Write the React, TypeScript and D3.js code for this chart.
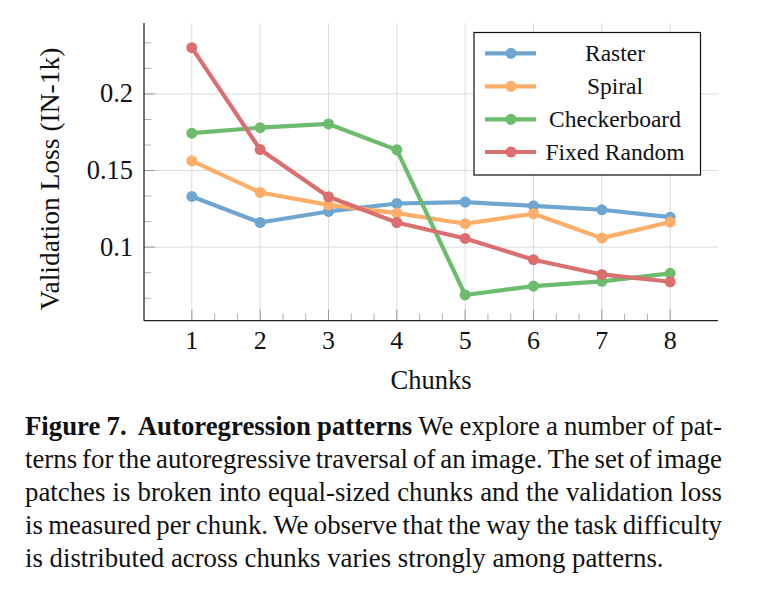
import React, { useMemo } from "react";
import * as d3 from "d3";

const chunks = [1, 2, 3, 4, 5, 6, 7, 8];
const raster = [0.1331, 0.1161, 0.1233, 0.1285, 0.1294, 0.127, 0.1244, 0.1196];
const spiral = [0.1563, 0.1357, 0.1276, 0.1222, 0.1153, 0.1218, 0.1059, 0.1164];
const checkerboard = [0.1744, 0.178, 0.1804, 0.1635, 0.0688, 0.0746, 0.0777, 0.0829];
const fixedRandom = [0.2302, 0.1637, 0.1329, 0.1161, 0.1057, 0.0918, 0.0822, 0.0774];
const seriesNames = ["Raster", "Spiral", "Checkerboard", "Fixed Random"];
const seriesColors = ["#6fa6d0", "#fcae68", "#6dbb6d", "#db6e6e"];
const yMajorTicks = [0.1, 0.15, 0.2];
const yTickLabels = ["0.1", "0.15", "0.2"];
const xTickLabels = ["1", "2", "3", "4", "5", "6", "7", "8"];
const xLabel = "Chunks";
const yLabel = "Validation Loss (IN-1k)";

const captionLines: { text: string; bold: boolean }[][] = [
  [
    { text: "Figure 7.", bold: true },
    { text: "Autoregression patterns", bold: true },
    { text: "We explore a number of pat-", bold: false },
  ],
  [{ text: "terns for the autoregressive traversal of an image. The set of image", bold: false }],
  [{ text: "patches is broken into equal-sized chunks and the validation loss", bold: false }],
  [{ text: "is measured per chunk. We observe that the way the task difficulty", bold: false }],
  [{ text: "is distributed across chunks varies strongly among patterns.", bold: false }],
];

const FONT = "Liberation Serif";

function T(props: any) {
  const { children, size, bold, style, ...rest } = props;
  return (
    <text
      fontFamily={FONT}
      fontSize={size}
      fontWeight={bold ? "bold" : "normal"}
      fill="#111"
      {...rest}
    >
      {children}
    </text>
  );
}

export default function App() {
  const x = d3.scaleLinear().domain([0.3, 8.7]).range([144, 718]);
  const y = d3.scaleLinear().domain([0.052, 0.2463]).range([320.7, 23]);
  const [x0, x1] = x.range();
  const [yBot, yTop] = y.range();

  const xMinor: number[] = [];
  for (let i = 1; i < 8; i++) {
    xMinor.push(i + 1 / 3, i + 2 / 3);
  }
  const yMinor: number[] = [];
  for (let k = 0; k < 4; k++) {
    const base = 0.05 + k * 0.05;
    [1 / 3, 2 / 3].forEach((f) => {
      const v = base + f * 0.05;
      if (v > 0.052 && v < 0.2463) yMinor.push(v);
    });
  }

  const allSeries = [raster, spiral, checkerboard, fixedRandom];
  const line = d3
    .line<number>()
    .x((_, i) => x(chunks[i]))
    .y((d) => y(d));

  const capSize = 26.8;
  const capLeft = 25;
  const capRight = 722;
  const capBase0 = 434.5;
  const capStep = 33;

  const captionWords = useMemo(() => {
    const canvas = document.createElement("canvas");
    const ctx = canvas.getContext("2d")!;
    const out: { text: string; bold: boolean; x: number; y: number }[] = [];
    captionLines.forEach((segs, li) => {
      const words: { text: string; bold: boolean; extra: number }[] = [];
      segs.forEach((s, si) => {
        s.text.split(" ").forEach((w) => {
          words.push({ text: w, bold: s.bold, extra: 0 });
        });
        if (si === 0 && li === 0) words[words.length - 1].extra = 5;
      });
      const widths = words.map((w) => {
        ctx.font = `${w.bold ? "bold " : ""}${capSize}px "${FONT}"`;
        return ctx.measureText(w.text).width;
      });
      const total = widths.reduce((a, b) => a + b, 0);
      const extras = words.reduce((a, w) => a + w.extra, 0);
      const last = li === captionLines.length - 1;
      ctx.font = `${capSize}px "${FONT}"`;
      const natSpace = ctx.measureText(" ").width;
      const gap = last ? natSpace : (capRight - capLeft - total - extras) / (words.length - 1);
      let cx = capLeft;
      words.forEach((w, i) => {
        out.push({ text: w.text, bold: w.bold, x: cx, y: capBase0 + li * capStep });
        cx += widths[i] + gap + w.extra;
      });
    });
    return out;
  }, []);

  const legendRows = [53.3, 86.3, 119.3, 152];

  return (
    <svg width={763} height={598} style={{ position: "absolute", left: 0, top: 0, background: "#fff" }}>
      <rect x={0} y={0} width={763} height={598} fill="#fff" />
      {/* grid */}
      {chunks.map((c) => (
        <line key={"gx" + c} x1={x(c)} x2={x(c)} y1={yTop} y2={yBot} stroke="#dcdcdc" strokeWidth={1} />
      ))}
      {yMajorTicks.map((v) => (
        <line key={"gy" + v} x1={x0} x2={x1} y1={y(v)} y2={y(v)} stroke="#dcdcdc" strokeWidth={1} />
      ))}
      {/* ticks */}
      {chunks.map((c) => (
        <line key={"tx" + c} x1={x(c)} x2={x(c)} y1={yBot} y2={yBot - 11} stroke="#9a9a9a" strokeWidth={1} />
      ))}
      {xMinor.map((c, i) => (
        <line key={"mx" + i} x1={x(c)} x2={x(c)} y1={yBot} y2={yBot - 7} stroke="#b0b0b0" strokeWidth={1} />
      ))}
      {yMajorTicks.map((v) => (
        <line key={"ty" + v} x1={x0} x2={x0 + 11} y1={y(v)} y2={y(v)} stroke="#9a9a9a" strokeWidth={1} />
      ))}
      {yMinor.map((v, i) => (
        <line key={"my" + i} x1={x0} x2={x0 + 7} y1={y(v)} y2={y(v)} stroke="#b0b0b0" strokeWidth={1} />
      ))}
      {/* axes */}
      <line x1={x0} x2={x0} y1={yTop} y2={yBot} stroke="#222" strokeWidth={1.3} />
      <line x1={x0} x2={x1} y1={yBot} y2={yBot} stroke="#222" strokeWidth={1.3} />
      {/* tick labels */}
      {chunks.map((c, i) => (
        <T key={"lx" + c} x={x(c)} y={349} size={26} textAnchor="middle">
          {xTickLabels[i]}
        </T>
      ))}
      {yMajorTicks.map((v, i) => (
        <T key={"ly" + v} x={133} y={y(v) + 8.5} size={26.5} textAnchor="end">
          {yTickLabels[i]}
        </T>
      ))}
      <T x={(x0 + x1) / 2} y={389} size={26.5} textAnchor="middle">
        {xLabel}
      </T>
      <T transform="translate(59,179) rotate(-90)" size={27.5} textAnchor="middle">
        {yLabel}
      </T>
      {/* series */}
      {allSeries.map((s, si) => (
        <g key={"s" + si}>
          <path d={line(s) || ""} fill="none" stroke={seriesColors[si]} strokeWidth={4.2} strokeLinejoin="round" />
          {s.map((v, i) => (
            <circle key={i} cx={x(chunks[i])} cy={y(v)} r={5.5} fill={seriesColors[si]} />
          ))}
        </g>
      ))}
      {/* legend */}
      <rect x={474} y={32.5} width={226.5} height={142.5} fill="#fff" stroke="#111" strokeWidth={1.2} />
      {seriesNames.map((n, i) => (
        <g key={"lg" + n}>
          <line x1={485} x2={536} y1={legendRows[i]} y2={legendRows[i]} stroke={seriesColors[i]} strokeWidth={4.2} />
          <circle cx={511} cy={legendRows[i]} r={5.5} fill={seriesColors[i]} />
          <T x={615} y={legendRows[i] + 8} size={23.5} textAnchor="middle">
            {n}
          </T>
        </g>
      ))}
      {/* caption */}
      {captionWords.map((w, i) => (
        <T key={"c" + i} x={w.x} y={w.y} size={capSize} bold={w.bold}>
          {w.text}
        </T>
      ))}
    </svg>
  );
}
